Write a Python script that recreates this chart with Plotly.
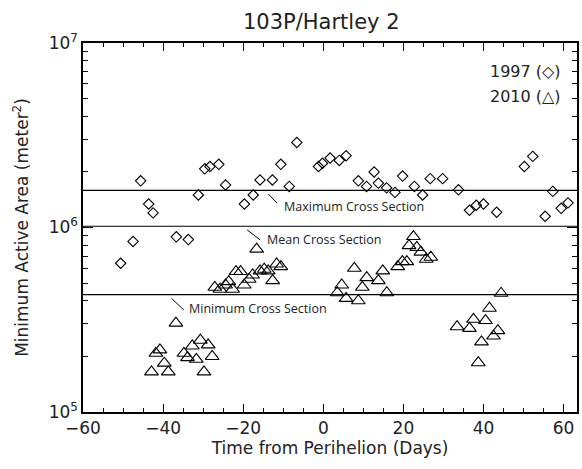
import math
import plotly.graph_objects as go

# 1997 apparition (diamonds)
d97_day = [-50.6, -47.5, -45.6, -43.6, -42.5, -36.7, -33.7, -31.2, -29.6, -28.3,
           -26.1, -24.4, -19.7, -17.5, -15.8, -12.7, -10.6, -8.5, -6.6, -1.2,
           -0.2, 1.7, 4.0, 5.7, 8.75, 10.8, 12.7, 13.75, 15.8, 17.9,
           19.8, 22.75, 24.8, 26.7, 29.8, 33.75, 36.5, 38.2, 40.0, 43.3,
           50.2, 52.3, 55.4, 57.3, 59.4, 61.1]
d97_area = [6.4e5, 8.4e5, 1.79e6, 1.34e6, 1.2e6, 8.9e5, 8.6e5, 1.5e6, 2.08e6, 2.14e6,
            2.2e6, 1.7e6, 1.34e6, 1.5e6, 1.81e6, 1.81e6, 2.2e6, 1.67e6, 2.89e6, 2.14e6,
            2.23e6, 2.38e6, 2.31e6, 2.45e6, 1.79e6, 1.67e6, 2.0e6, 1.74e6, 1.64e6, 1.55e6,
            1.9e6, 1.67e6, 1.5e6, 1.84e6, 1.84e6, 1.6e6, 1.24e6, 1.32e6, 1.34e6, 1.21e6,
            2.14e6, 2.43e6, 1.15e6, 1.57e6, 1.27e6, 1.36e6]

# 2010 apparition (triangles)
t10_day = [-42.9, -41.8, -40.8, -39.7, -38.7, -36.8, -34.8, -33.9, -32.7, -31.7,
           -30.7, -29.8, -28.75, -27.75,
           -27.1, -25.8, -24.4, -23.6, -22.65, -21.8, -20.65, -19.75, -18.5, -17.65,
           -16.65, -15.8, -14.75, -13.75, -12.65, -11.65, -10.6,
           3.5, 4.6, 5.7, 7.75, 8.75, 9.75, 10.85, 13.75, 14.85, 15.85,
           18.6, 19.75, 20.85, 21.4, 22.5, 23.35, 24.35, 25.7, 26.85,
           33.4, 36.5, 37.5, 38.7, 39.5, 40.5, 41.5, 42.5, 43.6, 44.4]
t10_area = [1.65e5, 2.08e5, 2.17e5, 1.84e5, 1.65e5, 3.03e5, 2.08e5, 1.97e5, 2.28e5, 1.93e5,
            2.45e5, 1.65e5, 2.31e5, 2.0e5,
            4.74e5, 4.63e5, 4.88e5, 5.09e5, 4.63e5, 5.77e5, 5.77e5, 4.88e5, 5.24e5, 5.53e5,
            7.63e5, 5.82e5, 5.94e5, 5.82e5, 5.15e5, 6.34e5, 6.14e5,
            4.43e5, 4.88e5, 4.13e5, 6.01e5, 4.01e5, 4.74e5, 5.35e5, 5.15e5, 5.82e5, 4.43e5,
            6.14e5, 6.53e5, 6.53e5, 7.98e5, 8.93e5, 7.79e5, 7.35e5, 6.73e5, 6.9e5,
            2.9e5, 2.84e5, 3.18e5, 1.85e5, 2.4e5, 3.13e5, 3.65e5, 2.58e5, 2.76e5, 4.4e5]

# Reference cross-section levels
ref_names = ["Maximum Cross Section", "Mean Cross Section", "Minimum Cross Section"]
ref_values = [1.59e6, 1.016e6, 4.33e5]

x_range = [-60, 63.35]
x_ticks = [-60, -40, -20, 0, 20, 40, 60]
x_ticktext = ["\u221260", "\u221240", "\u221220", "0", "20", "40", "60"]
y_ticks = [1e5, 1e6, 1e7]
y_ticktext = ["10<sup>5</sup>", "10<sup>6</sup>", "10<sup>7</sup>"]
y_minor = [m * 10 ** e for e in (5, 6) for m in range(2, 10)]

# label placement (layout only): leader start/end day, leader y factors, text day
label_leader_x = [(-13.75, -11.5), (-19.0, -15.8), (-37.9, -34.8)]
label_leader_f = [(0.956, 0.852), (0.955, 0.844), (0.954, 0.824)]
label_text_x = [-10.25, -14.6, -34.0]
label_text_f = [0.816, 0.851, 0.843]

FONT = "DejaVu Sans"
TXT = "#222"

fig = go.Figure()

for v in ref_values:
    fig.add_trace(go.Scatter(x=x_range, y=[v, v], mode="lines",
                             line=dict(color="black", width=1.2),
                             hoverinfo="skip", showlegend=False))

for name, v, lx, lf, tx, tf in zip(ref_names, ref_values, label_leader_x,
                                   label_leader_f, label_text_x, label_text_f):
    fig.add_trace(go.Scatter(x=list(lx), y=[v * lf[0], v * lf[1]], mode="lines",
                             line=dict(color="black", width=1),
                             hoverinfo="skip", showlegend=False))
    fig.add_annotation(x=tx, y=math.log10(v * tf), xref="x", yref="y", text=name,
                       showarrow=False, xanchor="left", yanchor="middle",
                       font=dict(family="Open Sans", size=12.5, color=TXT))

fig.add_trace(go.Scatter(x=d97_day, y=d97_area, mode="markers",
                         marker=dict(symbol="diamond-open", size=8,
                                     color="black", line=dict(width=1.1)),
                         showlegend=False))
fig.add_trace(go.Scatter(x=t10_day, y=t10_area, mode="markers",
                         marker=dict(symbol="triangle-up-open", size=12,
                                     color="black", line=dict(width=1.1)),
                         showlegend=False))

fig.add_annotation(x=0.9725, y=0.923, xref="paper", yref="paper",
                   text="1997 (\u25C7)", showarrow=False, xanchor="right",
                   yanchor="middle", font=dict(family=FONT, size=16, color=TXT))
fig.add_annotation(x=0.9725, y=0.855, xref="paper", yref="paper",
                   text="2010 (\u25B3)", showarrow=False, xanchor="right",
                   yanchor="middle", font=dict(family=FONT, size=16, color=TXT))
fig.add_annotation(x=0.483, y=1.0, xref="paper", yref="paper",
                   text="103P/Hartley 2", showarrow=False, xanchor="center",
                   yanchor="bottom", yshift=7,
                   font=dict(family=FONT, size=21, color=TXT))

axis_common = dict(showline=True, linecolor="black", linewidth=1.5,
                   mirror="allticks", ticks="inside", tickcolor="black",
                   showgrid=False, zeroline=False, automargin=False,
                   tickfont=dict(family=FONT, size=17, color=TXT))

fig.update_xaxes(range=x_range, tickvals=x_ticks, ticktext=x_ticktext,
                 ticklen=8, tickwidth=1.2,
                 minor=dict(dtick=5, ticks="inside", ticklen=4, tickcolor="black",
                            tickwidth=1, showgrid=False),
                 title=dict(text="Time from Perihelion (Days)", standoff=4,
                            font=dict(family=FONT, size=17, color=TXT)),
                 **axis_common)
fig.update_yaxes(type="log", range=[5, 7], tickvals=y_ticks, ticktext=y_ticktext,
                 ticklen=10, tickwidth=1.2,
                 minor=dict(tickvals=y_minor, ticks="inside", ticklen=5,
                            tickcolor="black", tickwidth=1, showgrid=False),
                 title=dict(text="Minimum Active Area (meter<sup>2</sup>)", standoff=16,
                            font=dict(family=FONT, size=17, color=TXT)),
                 **axis_common)

fig.update_layout(width=582, height=469,
                  margin=dict(l=83, r=5, t=43, b=57),
                  plot_bgcolor="white", paper_bgcolor="white",
                  showlegend=False)

fig.write_html("out.html", config={"displayModeBar": False},
               post_script="document.body.style.margin='0';"
                           "document.body.style.overflow='hidden';")
